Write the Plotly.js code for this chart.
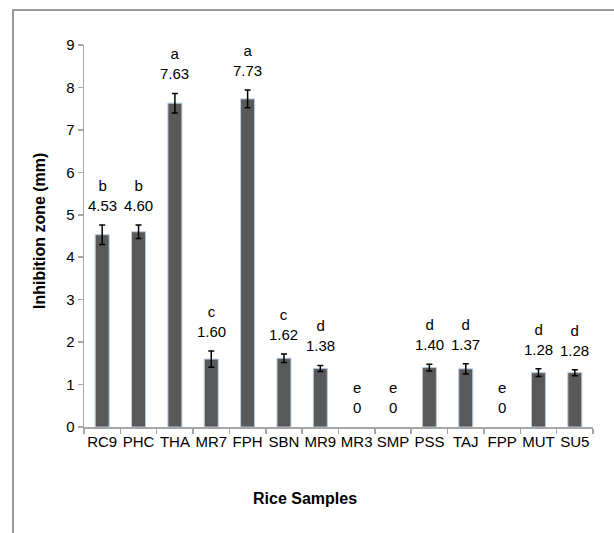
<!DOCTYPE html>
<html>
<head>
<meta charset="utf-8">
<script src="https://cdn.plot.ly/plotly-3.0.1.min.js"></script>
<style>
html,body{margin:0;padding:0;background:#fff;}
#chart{width:614px;height:533px;}
</style>
</head>
<body>
<div id="chart"></div>
<script>
const categories = ['RC9','PHC','THA','MR7','FPH','SBN','MR9','MR3','SMP','PSS','TAJ','FPP','MUT','SU5'];
const values = [4.53,4.60,7.63,1.60,7.73,1.62,1.38,0,0,1.40,1.37,0,1.28,1.28];
const errors = [0.23,0.16,0.23,0.19,0.21,0.10,0.07,0,0,0.08,0.12,0,0.09,0.07];
const letters = ['b','b','a','c','a','c','d','e','e','d','d','e','d','d'];
const yTicks = [0,1,2,3,4,5,6,7,8,9];

const font = 'Liberation Sans, Arial, sans-serif';
const axisGray = '#a6a6a6';

// zero-valued samples have no visible bar (and no error bar) in the reference
const trace = {
  type: 'bar',
  x: categories,
  y: values.map(v => v === 0 ? null : v),
  marker: {color: '#595959', line: {color: '#b8cce4', width: 1}},
  error_y: {type: 'data', array: errors, visible: true,
            color: '#000', thickness: 1.5, width: 3},
  hoverinfo: 'none'
};

const annotations = categories.map((c, i) => ({
  x: c, y: values[i] + errors[i], xref: 'x', yref: 'y',
  text: letters[i] + '<br>' + (values[i] === 0 ? '0' : values[i].toFixed(2)),
  showarrow: false, yanchor: 'bottom', xanchor: 'center', yshift: 9,
  font: {family: font, size: 15, color: '#000'}
}));

annotations.push({
  xref: 'paper', yref: 'paper', x: 0.434, y: -0.186,
  text: '<b>Rice Samples</b>', showarrow: false, xanchor: 'center', yanchor: 'middle',
  font: {family: font, size: 16, color: '#000'}
});
annotations.push({
  xref: 'paper', yref: 'paper', x: -0.0884, y: 0.513,
  text: '<b>Inhibition zone (mm)</b>', showarrow: false, textangle: -90,
  xanchor: 'center', yanchor: 'middle',
  font: {family: font, size: 16, color: '#000'}
});

const layout = {
  width: 614, height: 533,
  margin: {l: 84, r: 21, t: 45, b: 106},
  paper_bgcolor: '#fff', plot_bgcolor: '#fff',
  showlegend: false,
  bargap: 0.615,
  xaxis: {
    type: 'category', tickangle: 0,
    showline: true, linecolor: axisGray, linewidth: 1.5,
    ticks: 'outside', tickson: 'boundaries', ticklen: 5, tickcolor: axisGray, tickwidth: 1.5,
    showgrid: false, zeroline: false,
    tickfont: {family: font, size: 15, color: '#000'},
    fixedrange: true
  },
  yaxis: {
    range: [0, 9], tickvals: yTicks, ticktext: yTicks.map(String),
    showline: true, linecolor: axisGray, linewidth: 1.5,
    ticks: 'outside', ticklen: 5, tickcolor: axisGray, tickwidth: 1.5,
    showgrid: false, zeroline: false,
    tickfont: {family: font, size: 15, color: '#000'},
    fixedrange: true
  },
  annotations: annotations,
  shapes: [{
    type: 'path', xref: 'paper', yref: 'paper',
    path: 'M -0.1395,-0.28 L -0.1395,1.0916 L 1.05,1.0916',
    line: {color: '#999', width: 2}
  }]
};

Plotly.newPlot('chart', [trace], layout, {staticPlot: true, displayModeBar: false});
</script>
</body>
</html>
